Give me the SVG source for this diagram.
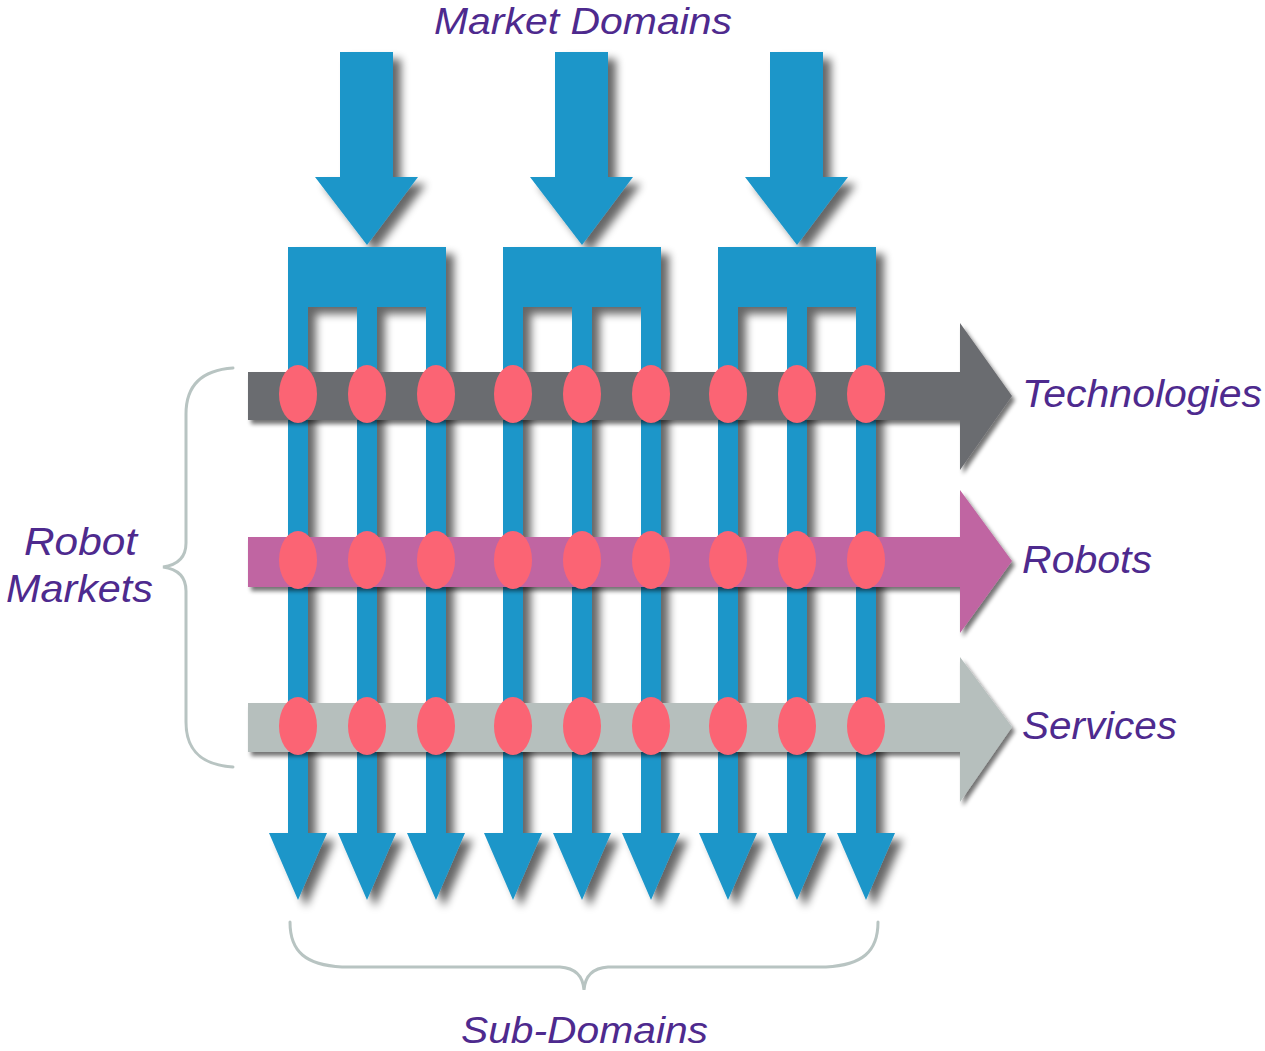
<svg xmlns="http://www.w3.org/2000/svg" width="1265" height="1051" viewBox="0 0 1265 1051">
  <style>
    .blue { fill: #1d96c9; }
    .dot { fill: #fb6474; }
    .lbl { font-family: "Liberation Sans", Arial, sans-serif; font-style: italic; fill: #4e2a8e; }
    .brace { fill: none; stroke: #b8c4c2; stroke-width: 3; stroke-linecap: round; }
  </style>
  <defs>
    <filter id="shadow" x="-20%" y="-20%" width="150%" height="150%">
      <feGaussianBlur in="SourceAlpha" stdDeviation="4.5"/>
      <feOffset dx="8" dy="7" result="b"/>
      <feComponentTransfer><feFuncA type="linear" slope="0.6"/></feComponentTransfer>
      <feMerge><feMergeNode/><feMergeNode in="SourceGraphic"/></feMerge>
    </filter>
    <filter id="barshadow" x="-5%" y="-20%" width="110%" height="160%">
      <feGaussianBlur in="SourceAlpha" stdDeviation="2"/>
      <feOffset dx="3" dy="4" result="b"/>
      <feComponentTransfer><feFuncA type="linear" slope="0.55"/></feComponentTransfer>
      <feMerge><feMergeNode/><feMergeNode in="SourceGraphic"/></feMerge>
    </filter>
    <path id="fork" d="M288 247 H446 V833 H465 L436 900 L407 833 H426 V307 H377 V833 H396 L367 900 L338 833 H357 V307 H308 V833 H327 L298 900 L269 833 H288 Z"/>
    <path id="topArrow" d="M340 52 H393 V177 H418 L367 245 L315 177 H340 Z"/>
  </defs>
  <rect width="1265" height="1051" fill="#ffffff"/>

  <g id="connectors">
    <g id="domain1" filter="url(#shadow)">
      <use href="#fork" class="blue"/>
      <use href="#topArrow" class="blue"/>
    </g>
    <g id="domain2" filter="url(#shadow)" transform="translate(215,0)">
      <use href="#fork" class="blue"/>
      <use href="#topArrow" class="blue"/>
    </g>
    <g id="domain3" filter="url(#shadow)" transform="translate(430,0)">
      <use href="#fork" class="blue"/>
      <use href="#topArrow" class="blue"/>
    </g>
  </g>

  <g id="technologies" filter="url(#barshadow)">
    <path d="M248 372 H960 V323 L1012 396 L960 470 V420 H248 Z" fill="#6b6c70"/>
  </g>
  <g id="robots" filter="url(#barshadow)">
    <path d="M248 537 H960 V490 L1012 561 L960 633 V587 H248 Z" fill="#c065a2"/>
  </g>
  <g id="services" filter="url(#barshadow)">
    <path d="M248 703 H960 V657 L1012 727 L960 802 V752 H248 Z" fill="#b6bfbd"/>
  </g>

  <g id="intersections" class="dot">
    <ellipse cx="298" cy="394" rx="19" ry="29"/>
    <ellipse cx="367" cy="394" rx="19" ry="29"/>
    <ellipse cx="436" cy="394" rx="19" ry="29"/>
    <ellipse cx="513" cy="394" rx="19" ry="29"/>
    <ellipse cx="582" cy="394" rx="19" ry="29"/>
    <ellipse cx="651" cy="394" rx="19" ry="29"/>
    <ellipse cx="728" cy="394" rx="19" ry="29"/>
    <ellipse cx="797" cy="394" rx="19" ry="29"/>
    <ellipse cx="866" cy="394" rx="19" ry="29"/>
    <ellipse cx="298" cy="560" rx="19" ry="29"/>
    <ellipse cx="367" cy="560" rx="19" ry="29"/>
    <ellipse cx="436" cy="560" rx="19" ry="29"/>
    <ellipse cx="513" cy="560" rx="19" ry="29"/>
    <ellipse cx="582" cy="560" rx="19" ry="29"/>
    <ellipse cx="651" cy="560" rx="19" ry="29"/>
    <ellipse cx="728" cy="560" rx="19" ry="29"/>
    <ellipse cx="797" cy="560" rx="19" ry="29"/>
    <ellipse cx="866" cy="560" rx="19" ry="29"/>
    <ellipse cx="298" cy="726" rx="19" ry="29"/>
    <ellipse cx="367" cy="726" rx="19" ry="29"/>
    <ellipse cx="436" cy="726" rx="19" ry="29"/>
    <ellipse cx="513" cy="726" rx="19" ry="29"/>
    <ellipse cx="582" cy="726" rx="19" ry="29"/>
    <ellipse cx="651" cy="726" rx="19" ry="29"/>
    <ellipse cx="728" cy="726" rx="19" ry="29"/>
    <ellipse cx="797" cy="726" rx="19" ry="29"/>
    <ellipse cx="866" cy="726" rx="19" ry="29"/>
  </g>

  <g id="robot-markets-brace">
    <path class="brace" d="M233 368 C203 370 186 384 186 414 L186 543 C186 558 177 565 163 567 C177 569 186 576 186 591 L186 722 C186 752 203 765 233 767"/>
  </g>
  <g id="sub-domains-brace">
    <path class="brace" d="M290 922 C290 952 306 965 342 967 L560 967 C575 968 583 976 584 990 C585 976 593 968 608 967 L826 967 C862 965 878 952 878 922"/>
  </g>

  <g id="labels">
    <text class="lbl" x="434" y="34" font-size="36" textLength="298" lengthAdjust="spacingAndGlyphs">Market Domains</text>
    <text class="lbl" x="1022" y="407" font-size="38" textLength="240" lengthAdjust="spacingAndGlyphs">Technologies</text>
    <text class="lbl" x="1022" y="573" font-size="38" textLength="130" lengthAdjust="spacingAndGlyphs">Robots</text>
    <text class="lbl" x="1022" y="739" font-size="38" textLength="155" lengthAdjust="spacingAndGlyphs">Services</text>
    <text class="lbl" x="24" y="555" font-size="38" textLength="113" lengthAdjust="spacingAndGlyphs">Robot</text>
    <text class="lbl" x="6" y="602" font-size="38" textLength="147" lengthAdjust="spacingAndGlyphs">Markets</text>
    <text class="lbl" x="461" y="1043" font-size="36" textLength="247" lengthAdjust="spacingAndGlyphs">Sub-Domains</text>
  </g>
</svg>
